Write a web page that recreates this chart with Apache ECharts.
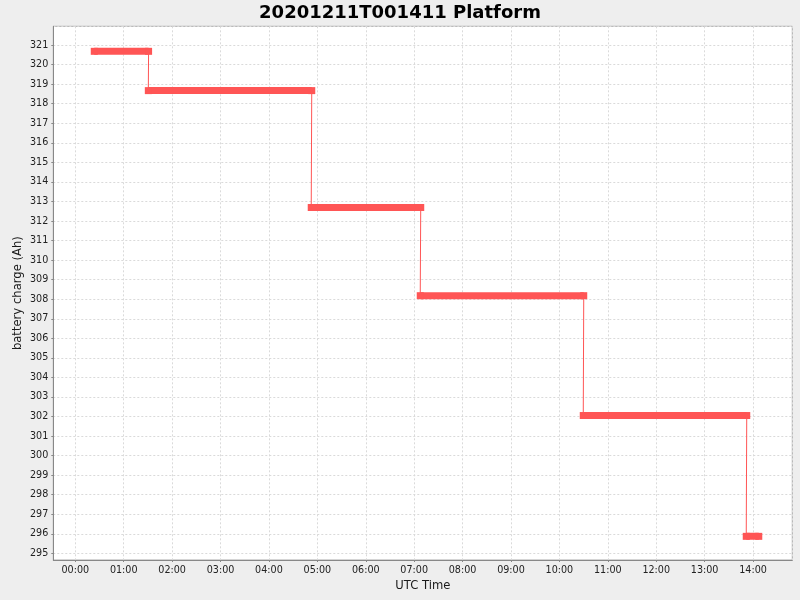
<!DOCTYPE html>
<html><head><meta charset="utf-8">
<script src="https://cdn.jsdelivr.net/npm/echarts@6/dist/echarts.min.js"></script>
<style>html,body{margin:0;padding:0;background:#eeeeee;} #c{width:800px;height:600px;}</style>
</head><body><div id="c"></div>
<script>
// Battery charge steps (UTC time, Ah)
const segmentStart = ['00:23:30','01:30:30','04:52:25','07:07:32','10:29:34','13:51:35'];
const segmentEnd   = ['01:30:50','04:53:03','07:08:08','10:30:10','13:52:12','14:07:06'];
const batteryCharge = [320.68, 318.67, 312.69, 308.18, 302.05, 295.87];
const xTickLabels = ['00:00','01:00','02:00','03:00','04:00','05:00','06:00','07:00','08:00','09:00','10:00','11:00','12:00','13:00','14:00'];

function toHours(s){ const p = s.split(':').map(Number); return p[0] + p[1]/60 + (p[2]||0)/3600; }

const RED = '#FF5555';
const thinData = [];
batteryCharge.forEach((v,i)=>{ thinData.push([toHours(segmentStart[i]), v]); thinData.push([toHours(segmentEnd[i]), v]); });

const series = [{
  type:'line', data: thinData, symbol:'none', silent:true, animation:false, z:2,
  lineStyle:{color:RED, width:1}
}];
batteryCharge.forEach((v,i)=>{
  series.push({
    type:'line', silent:true, animation:false, z:3,
    data:[[toHours(segmentStart[i]), v],[toHours(segmentEnd[i]), v]],
    symbol:'rect', symbolSize:7, showSymbol:true, showAllSymbol:true,
    itemStyle:{color:RED, borderWidth:0},
    lineStyle:{color:RED, width:7, cap:'butt'},
    emphasis:{disabled:true}
  });
});

const FONT = 'DejaVu Sans';
const chart = echarts.init(document.getElementById('c'), null, {renderer:'canvas'});
chart.setOption({
  backgroundColor:'#eeeeee',
  animation:false,
  title:{ text:'20201211T001411 Platform', left:'center', top:-1,
    textStyle:{fontFamily:FONT, fontWeight:'bold', fontSize:18, color:'#000'} },
  grid:{ left:53.3, right:7.7, top:26.3, bottom:40, show:true, backgroundColor:'#ffffff', borderColor:'#aaaaaa', borderWidth:1 },
  xAxis:{
    type:'value', min:-0.4545, max:14.811, minInterval:1, maxInterval:1,
    name:'UTC Time', nameLocation:'middle', nameGap:20, nameMoveOverlap:false,
    nameTextStyle:{fontFamily:FONT, fontSize:11.6, color:'#1a1a1a'},
    axisLine:{show:true, onZero:false, lineStyle:{color:'#888888', width:1}},
    axisTick:{show:true, length:2, lineStyle:{color:'#888888'}},
    axisLabel:{fontFamily:FONT, fontSize:9.6, color:'#222', margin:5, showMinLabel:false, showMaxLabel:false,
      formatter:v=>{ const i=Math.round(v); return (Math.abs(v-i)<1e-6 && xTickLabels[i]) ? xTickLabels[i] : ''; }},
    splitLine:{show:true, lineStyle:{color:'#dadada', type:[2,2], width:1}}
  },
  yAxis:{
    type:'value', min:294.66, max:321.96, minInterval:1, maxInterval:1,
    name:'battery charge (Ah)', nameLocation:'middle', nameGap:29, nameRotate:90, nameMoveOverlap:false,
    nameTextStyle:{fontFamily:FONT, fontSize:11.6, color:'#1a1a1a'},
    axisLine:{show:true, onZero:false, lineStyle:{color:'#888888', width:1}},
    axisTick:{show:true, length:2, lineStyle:{color:'#888888'}},
    axisLabel:{fontFamily:FONT, fontSize:9.6, color:'#222', margin:5, showMinLabel:false, showMaxLabel:false,
      formatter:v=> (Math.abs(v-Math.round(v))<1e-6) ? String(Math.round(v)) : ''},
    splitLine:{show:true, lineStyle:{color:'#dadada', type:[2,2], width:1}}
  },
  series: series
});
</script></body></html>
